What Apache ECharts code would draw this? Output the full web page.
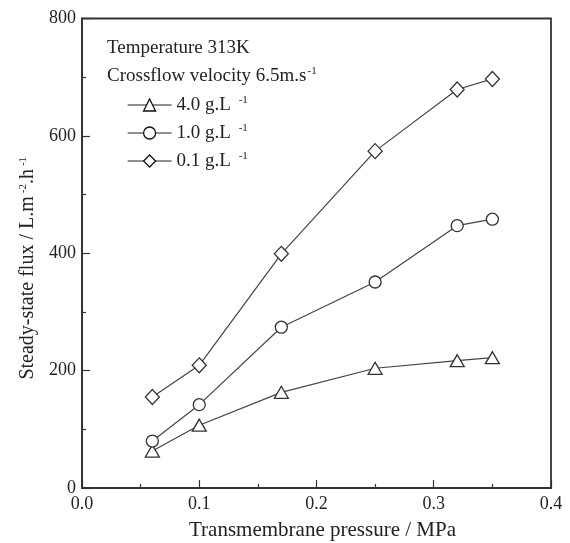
<!DOCTYPE html>
<html>
<head>
<meta charset="utf-8">
<script src="https://cdn.jsdelivr.net/npm/echarts@6/dist/echarts.min.js"></script>
<style>html,body{margin:0;padding:0;background:#fff}#c{width:570px;height:543px}</style>
</head>
<body>
<div id="c"></div>
<script>
const pressure = [0.06, 0.10, 0.17, 0.25, 0.32, 0.35];
const flux40 = [63, 107, 163, 204, 217, 222];
const flux10 = [80, 142, 274, 351, 447, 458];
const flux01 = [155, 209, 399, 574, 679, 697];
const seriesNames = ['4.0 g.L-1', '1.0 g.L-1', '0.1 g.L-1'];
const xTicks = ['0.0', '0.1', '0.2', '0.3', '0.4'];
const yTicks = ['0', '200', '400', '600', '800'];

const FONT = '"Liberation Serif", "Times New Roman", serif';
const INK = '#222';
const pairs = (ys) => pressure.map((x, i) => [x, ys[i]]);
const supRich = {
  s: { fontFamily: FONT, fontSize: 11, color: INK, verticalAlign: 'top', padding: [0, 0, 9, 3] }
};

function mkSeries(name, ys, symbol, size) {
  return {
    name, type: 'line', data: pairs(ys), symbol, symbolSize: size,
    lineStyle: { color: '#444', width: 1.2 },
    itemStyle: { color: '#fff', borderColor: '#333', borderWidth: 1.3 },
    emphasis: { disabled: true },
    z: 3
  };
}

const chart = echarts.init(document.getElementById('c'), null, { renderer: 'canvas' });
chart.setOption({
  animation: false,
  backgroundColor: '#fff',
  grid: {
    left: 82, right: 19, top: 18.5, bottom: 55,
    show: true, borderColor: '#333', borderWidth: 1.8,
    containLabel: false, outerBoundsMode: 'none'
  },
  xAxis: {
    type: 'value', min: 0, max: 0.4, interval: 0.1,
    name: 'Transmembrane pressure / MPa', nameLocation: 'middle', nameGap: 32,
    nameTextStyle: { fontFamily: FONT, fontSize: 21, color: INK, padding: [0, 0, 0, 12] },
    axisLine: { lineStyle: { color: '#333', width: 1.8 } },
    axisTick: { inside: true, length: 8, lineStyle: { color: '#333', width: 1.2 } },
    minorTick: { show: true, splitNumber: 2, length: 4, lineStyle: { color: '#333', width: 1.2 } },
    splitLine: { show: false },
    axisLabel: { fontFamily: FONT, fontSize: 18, color: INK, margin: 7,
      formatter: (v) => xTicks[Math.round(v / 0.1)] }
  },
  yAxis: {
    type: 'value', min: 0, max: 800, interval: 200,
    name: 'Steady-state flux / L.m{s|-2}.h{s|-1}', nameLocation: 'middle', nameGap: 44,
    nameTextStyle: { fontFamily: FONT, fontSize: 20, color: INK, padding: [0, 30, 0, 0], rich: supRich },
    axisLine: { lineStyle: { color: '#333', width: 1.8 } },
    axisTick: { inside: true, length: 8, lineStyle: { color: '#333', width: 1.2 } },
    minorTick: { show: true, splitNumber: 2, length: 4, lineStyle: { color: '#333', width: 1.2 } },
    splitLine: { show: false },
    axisLabel: { fontFamily: FONT, fontSize: 18, color: INK, margin: 6,
      formatter: (v) => yTicks[Math.round(v / 200)] }
  },
  legend: {
    orient: 'vertical', left: 122, top: 90, itemWidth: 44, itemHeight: 15, itemGap: 8.5,
    data: seriesNames,
    selectedMode: false,
    lineStyle: { width: 1.2, color: '#222' },
    itemStyle: { color: '#fff', borderColor: '#111', borderWidth: 1.3 },
    textStyle: { fontFamily: FONT, fontSize: 19, color: INK, rich: supRich },
    formatter: (n) => n.replace('-1', ' {s|-1}')
  },
  graphic: [
    { type: 'text', left: 107, top: 39, silent: true,
      style: { text: 'Temperature 313K', fontFamily: FONT, fontSize: 19, fill: INK } },
    { type: 'text', left: 107, top: 66, silent: true,
      style: { text: 'Crossflow velocity 6.5m.s{s|-1}', fontFamily: FONT, fontSize: 19, fill: INK,
        rich: { s: { fontFamily: FONT, fontSize: 11, fill: INK, verticalAlign: 'top', padding: [0, 0, 9, 1] } } } }
  ],
  series: [
    mkSeries(seriesNames[0], flux40, 'triangle', [14, 12]),
    mkSeries(seriesNames[1], flux10, 'circle', 12),
    mkSeries(seriesNames[2], flux01, 'diamond', [14, 15])
  ]
});
</script>
</body>
</html>
